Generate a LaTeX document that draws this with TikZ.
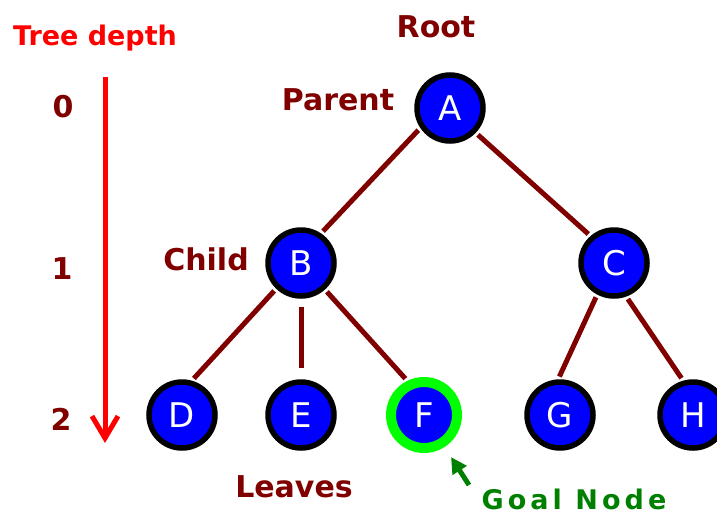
\documentclass[tikz,border=0pt]{standalone}
\usepackage{fontspec}
\setmainfont{DejaVu Sans}
\newfontfamily\goalfont[LetterSpace=15]{DejaVu Sans}
\usepackage{xcolor}
\usetikzlibrary{arrows.meta}

\definecolor{maroon}{RGB}{128,0,0}
\definecolor{goalgreen}{RGB}{0,128,0}
\definecolor{ringgreen}{RGB}{0,255,0}
\definecolor{nodeblue}{RGB}{0,0,255}

\tikzset{
    treenode/.style={circle, draw=black, fill=nodeblue, line width=5.5pt,
        minimum size=66pt, inner sep=0pt, text=white, font=\fontsize{34}{34}\selectfont},
    goalnode/.style={treenode, draw=ringgreen, line width=10pt},
    branch/.style={draw=maroon, line width=5pt, shorten <=3pt, shorten >=3pt},
    tag/.style={anchor=base, text=maroon, font=\fontsize{30}{30}\selectfont\bfseries},
}

\begin{document}
\begin{tikzpicture}[x=1pt,y=-1pt]
    \useasboundingbox (0,0) rectangle (717,517);

    % Nodes
    \node[treenode] (A) at (450,108) {A};
    \node[treenode] (B) at (301,263) {B};
    \node[treenode] (C) at (614,263) {C};
    \node[treenode] (D) at (182,415) {D};
    \node[treenode] (E) at (301,415) {E};
    \node[goalnode] (F) at (424,415) {F};
    \node[treenode] (G) at (560,415) {G};
    \node[treenode] (H) at (693,415) {H};

    % Branches
    \draw[branch] (A.214) -- (B.56);
    \draw[branch] (A.-44) -- (C.131);
    \draw[branch] (B.226) -- (D.74);
    \draw[branch, shorten <=8pt, shorten >=11pt] (B.south) -- (E.north);
    \draw[branch] (B.-48) -- (F.116);
    \draw[branch] (C.-118) -- (G.93);
    \draw[branch] (C.-70) -- (H.106);

    % Labels
    \node[tag] (root) at (436,37) {Root};
    \node[tag] (parent) at (338,110) {Parent};
    \node[tag] (child) at (206,270) {Child};
    \node[tag] (leaves) at (294,497) {Leaves};

    % Tree depth
    \node[anchor=base, text=red, font=\fontsize{27}{27}\selectfont\bfseries] (depth) at (95,45) {Tree depth};
    \node[tag] (d0) at (63,117) {0};
    \node[tag] (d1) at (62,279) {1};
    \node[tag] (d2) at (61,430) {2};
    \coordinate (depthtop) at (105,77);
    \coordinate (depthbot) at (105,443);
    \draw[red, line width=5pt, -{Straight Barb[length=22pt,width=26pt]}] (depthtop) -- (depthbot);

    % Goal node
    \node[anchor=base, text=goalgreen, font=\fontsize{27}{27}\goalfont\bfseries] (goal) at (574,509) {Goal Node};
    \coordinate (goaltail) at (469,485);
    \draw[goalgreen, line width=5pt, shorten >=12pt, -{Triangle[length=16pt,width=16pt]}] (goaltail) -- (F);
\end{tikzpicture}
\end{document}
